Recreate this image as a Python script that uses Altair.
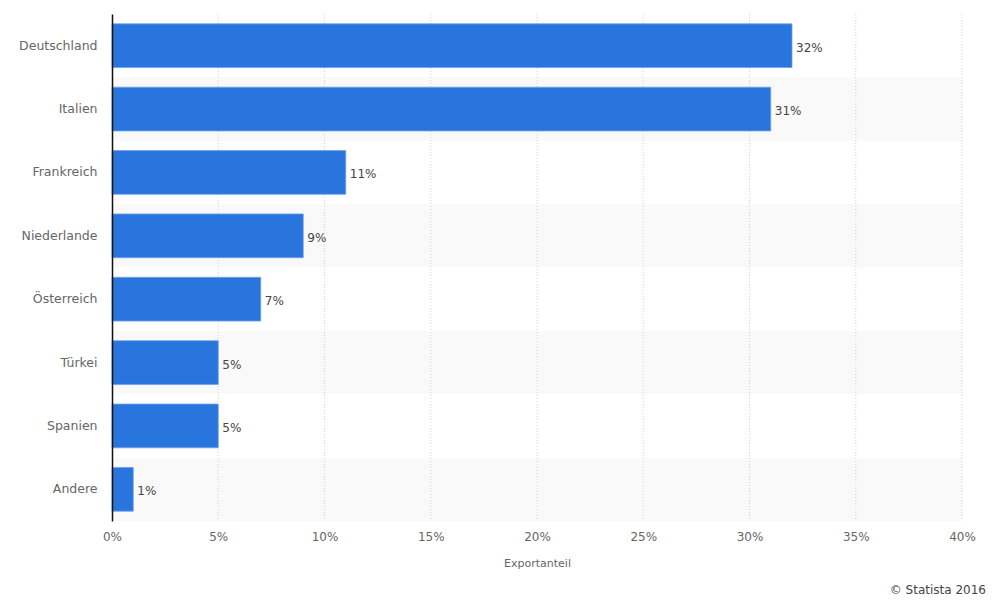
import altair as alt
import pandas as pd

countries = ["Deutschland", "Italien", "Frankreich", "Niederlande", "Österreich", "Türkei", "Spanien", "Andere"]
shares = [32, 31, 11, 9, 7, 5, 5, 1]
labels = ["32%", "31%", "11%", "9%", "7%", "5%", "5%", "1%"]
stripe = [0, 1, 0, 1, 0, 1, 0, 1]
ticks = [0, 5, 10, 15, 20, 25, 30, 35, 40]

df = pd.DataFrame({"land": countries, "wert": shares, "label": labels, "stripe": stripe,
                   "full": [40] * len(countries)})
tick_df = pd.DataFrame({"v": ticks[1:]})

FONT = "DejaVu Sans"

yenc = alt.Y("land:N", sort=countries, title=None,
             scale=alt.Scale(paddingInner=0, paddingOuter=0),
             axis=alt.Axis(labelFont=FONT, labelFontSize=12.5, labelColor="#666666",
                           labelPadding=15, ticks=False, domain=True, domainColor="#111111",
                           domainWidth=1.5, grid=False, zindex=1))

xscale = alt.Scale(domain=[0, 40])
xaxis = alt.Axis(values=ticks, labelExpr="datum.value + '%'", labelFlush=False,
                 grid=False, domain=False, ticks=False, labelFont=FONT, labelFontSize=12,
                 labelColor="#666666", labelPadding=10, title="Exportanteil",
                 titleFont=FONT, titleFontSize=11, titleFontWeight="normal",
                 titleColor="#666666", titlePadding=15)

bg = alt.Chart(df).transform_filter("datum.stripe == 1").mark_bar(color="#f9f9f9").encode(
    y=yenc,
    x=alt.X("full:Q", scale=xscale, axis=xaxis),
)

grid = alt.Chart(tick_df).mark_rule(color="#d2d2d2", strokeDash=[1, 2], strokeWidth=1).encode(
    x=alt.X("v:Q", scale=xscale, axis=xaxis),
)

bars = alt.Chart(df).mark_bar(color="#2876dd", stroke="#6fa0e8", strokeWidth=0.8,
                              height=alt.RelativeBandSize(band=0.69)).encode(
    y=yenc,
    x=alt.X("wert:Q", scale=xscale, axis=xaxis),
)

text = alt.Chart(df).mark_text(align="left", baseline="middle", dx=4, dy=2,
                               font=FONT, fontSize=12, color="#444444").encode(
    y=yenc,
    x=alt.X("wert:Q", scale=xscale, axis=xaxis),
    text="label:N",
)

credit = alt.Chart(pd.DataFrame({"t": ["© Statista 2016"]})).mark_text(
    align="right", baseline="middle", font=FONT, fontSize=12, color="#444444"
).encode(x=alt.value(874), y=alt.value(576), text="t:N")

chart = alt.layer(bg, grid, bars, text, credit).properties(
    width=850, height=507,
    padding={"left": 104, "top": 6, "right": 31, "bottom": 84},
    autosize=alt.AutoSizeParams(type="none"),
    background="#ffffff",
).configure_view(stroke=None)

chart.save("out.html", embed_options={"renderer": "svg", "actions": False})
